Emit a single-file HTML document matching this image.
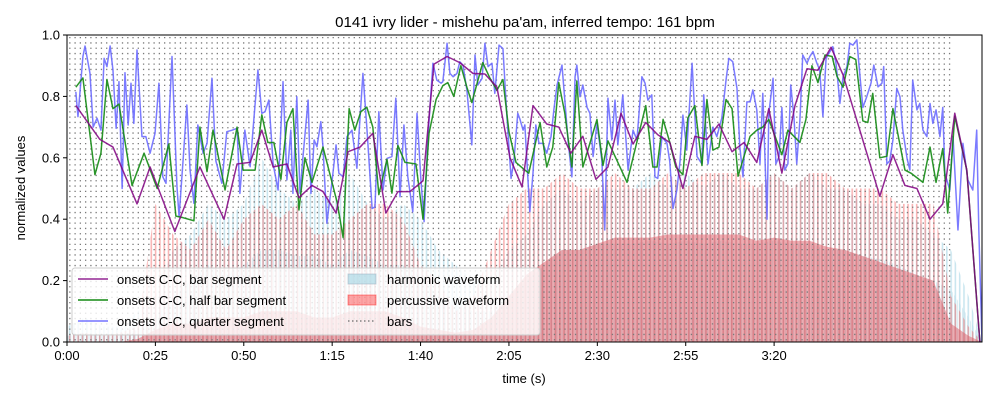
<!DOCTYPE html>
<html><head><meta charset="utf-8"><style>
html,body{margin:0;padding:0;background:#fff;}
svg{display:block;font-family:"Liberation Sans","DejaVu Sans",sans-serif;}
</style></head><body>
<svg id="chart" width="1000" height="400" viewBox="0 0 1000 400" xmlns="http://www.w3.org/2000/svg">
<defs>
<pattern id="stripes" width="2.6" height="10" patternUnits="userSpaceOnUse"><rect x="0" y="0" width="1.1" height="10" fill="#fff"/></pattern>
<mask id="stripeMask"><rect x="0" y="0" width="1000" height="400" fill="url(#stripes)"/></mask>
<pattern id="stripes2" width="4.3" height="10" patternUnits="userSpaceOnUse"><rect x="0" y="0" width="1.6" height="10" fill="#fff"/></pattern>
<mask id="stripeMask2"><rect x="0" y="0" width="1000" height="400" fill="url(#stripes2)"/></mask>
<clipPath id="plotClip"><rect x="67" y="35" width="915" height="307"/></clipPath>
</defs>
<text x="525" y="27" text-anchor="middle" font-size="15">0141 ivry lider - mishehu pa'am, inferred tempo: 161 bpm</text>
<g id="plot" clip-path="url(#plotClip)"></g>
<rect x="67" y="35" width="915" height="307" fill="none" stroke="#000" stroke-width="1"/>
<g id="axes"></g>
<text x="524" y="383" text-anchor="middle" font-size="13">time (s)</text>
<text transform="translate(25,188) rotate(-90)" text-anchor="middle" font-size="13">normalized values</text>
<g id="legend">
<rect x="72" y="268" width="468" height="67" rx="3" fill="#fff" fill-opacity="0.8" stroke="#ccc"/>
<line x1="78" y1="279" x2="108" y2="279" stroke="#800080" stroke-opacity="0.85" stroke-width="1.5"/>
<text x="117" y="284" font-size="13">onsets C-C, bar segment</text>
<line x1="78" y1="300" x2="108" y2="300" stroke="#138a13" stroke-width="1.5"/>
<text x="117" y="305" font-size="13">onsets C-C, half bar segment</text>
<line x1="78" y1="321" x2="108" y2="321" stroke="#6464ff" stroke-opacity="0.9" stroke-width="1.5"/>
<text x="117" y="326" font-size="13">onsets C-C, quarter segment</text>
<rect x="348" y="274" width="28" height="10" fill="#add8e6" fill-opacity="0.7" stroke="#9ab" stroke-opacity="0.5"/>
<text x="387" y="284" font-size="13">harmonic waveform</text>
<rect x="348" y="295" width="28" height="10" fill="#ff0000" fill-opacity="0.35" stroke="#f00" stroke-opacity="0.4"/>
<text x="387" y="305" font-size="13">percussive waveform</text>
<line x1="348" y1="321" x2="376" y2="321" stroke="#808080" stroke-width="1.5" stroke-dasharray="1.5 2.5"/>
<text x="387" y="326" font-size="13">bars</text>
</g>
</svg>
<script>
const xTicks = [0,25,50,75,100,125,150,175,200];
const xTickLabels = ["0:00","0:25","0:50","1:15","1:40","2:05","2:30","2:55","3:20"];
const yTicks = [0,0.2,0.4,0.6,0.8,1.0];
const yTickLabels = ["0.0","0.2","0.4","0.6","0.8","1.0"];
const duration = 258.8;
const barDuration = 1.49;
const barsEnd = 250;
const waveTimes = [0,5,10,15,20,25,30,35,40,45,50,55,60,65,70,75,80,85,90,95,100,105,110,115,120,125,130,135,140,145,150,155,160,165,170,175,180,185,190,195,200,205,210,215,220,225,230,235,240,245,250,255,258.8];
const harmonicPeak = [.05,.08,.05,.05,.1,.15,.3,.35,.45,.4,.45,.6,.5,.45,.5,.45,.55,.45,.4,.45,.4,.3,.25,.2,.2,.3,.35,.45,.5,.45,.5,.5,.5,.55,.5,.55,.5,.55,.5,.5,.55,.5,.55,.5,.5,.45,.45,.4,.4,.35,.3,.15,0];
const harmonicBody = [.02,.03,.02,.02,.04,.08,.15,.2,.25,.22,.25,.3,.3,.28,.28,.25,.3,.28,.25,.25,.22,.15,.12,.1,.1,.15,.2,.25,.3,.3,.32,.32,.32,.33,.32,.33,.32,.33,.32,.32,.33,.32,.32,.3,.3,.28,.27,.25,.22,.2,.17,.08,0];
const percPeak = [.02,.03,.02,.03,.05,.45,.35,.3,.4,.3,.4,.45,.4,.45,.35,.35,.4,.45,.45,.4,.25,.2,.1,.15,.3,.45,.5,.5,.55,.5,.5,.55,.5,.5,.55,.5,.55,.55,.55,.5,.55,.5,.55,.55,.5,.5,.5,.45,.45,.45,.15,.05,0];
const percBody = [0,0,0,0,.01,.04,.06,.06,.08,.08,.08,.1,.1,.1,.08,.08,.1,.1,.1,.08,.05,.04,.03,.04,.08,.15,.22,.26,.3,.3,.32,.34,.34,.34,.35,.35,.35,.35,.35,.33,.34,.33,.33,.31,.3,.28,.26,.24,.22,.2,.06,.02,0];
const barTimes = [2.5,9.3,13.0,19.8,23.5,30.5,37.6,44.4,48.1,51.8,55.1,58.3,62.2,65.6,69.3,72.4,76.1,79.5,82.9,86.5,90.2,93.6,97.0,100.7,103.8,107.5,111.1,114.8,118.2,121.6,125.3,128.7,131.8,135.7,139.1,142.5,145.9,149.6,153.0,156.7,160.1,163.7,167.1,170.5,174.2,177.6,181.0,184.4,188.1,191.5,195.1,198.5,202.2,205.9,209.3,212.4,216.1,219.5,229.9,233.6,237.0,240.4,244.1,247.7,251.1,254.5,258.2];
const barValues = [.77,.66,.635,.45,.57,.36,.57,.40,.58,.585,.69,.57,.58,.47,.51,.49,.42,.62,.635,.68,.42,.49,.49,.525,.905,.93,.91,.875,.873,.83,.6,.505,.77,.71,.70,.615,.67,.53,.57,.745,.645,.715,.675,.65,.50,.67,.66,.71,.62,.65,.585,.76,.55,.77,.89,.885,.96,.87,.475,.61,.51,.50,.40,.45,.745,.56,0];
const halfTimes = [2.5,4.5,7.9,9.6,11.3,13.0,14.7,18.4,21.8,25.5,28.8,30.8,32.8,35.9,37.6,39.6,41.3,44.7,48.1,49.8,53.2,55.1,56.8,58.5,60.5,62.2,63.9,65.6,67.3,69.3,72.4,76.4,78.1,79.8,81.4,83.1,84.8,86.5,88.2,90.5,91.9,93.6,95.6,98.7,100.7,102.4,104.4,106.3,107.7,109.4,111.4,113.1,114.5,117.6,119.6,121.6,123.3,125.0,127.0,129.0,130.6,133.8,135.7,137.4,139.1,140.8,142.8,144.2,145.9,149.9,151.6,153.0,158.4,163.7,165.7,166.9,168.6,170.5,172.2,174.2,175.6,177.6,179.6,181.0,182.7,184.4,186.4,188.1,189.8,193.2,195.1,196.8,198.5,202.2,203.9,207.3,209.0,210.7,212.4,214.4,216.4,217.8,219.5,221.4,223.1,225.1,226.5,227.9,229.9,231.9,233.6,237.0,238.7,242.1,244.1,245.8,247.7,249.1,251.1,254.5,258.2];
const halfValues = [.83,.86,.545,.615,.855,.76,.775,.51,.615,.50,.645,.41,.405,.395,.70,.555,.69,.495,.70,.56,.56,.74,.65,.65,.53,.715,.76,.43,.60,.52,.635,.455,.34,.76,.69,.75,.765,.70,.48,.595,.485,.64,.585,.58,.40,.68,.79,.835,.845,.80,.90,.83,.78,.91,.86,.82,.855,.685,.585,.565,.55,.715,.57,.635,.845,.745,.57,.85,.57,.725,.575,.655,.52,.77,.57,.57,.725,.65,.57,.545,.73,.77,.575,.79,.625,.635,.79,.76,.54,.67,.69,.70,.725,.61,.69,.65,.725,.90,.845,.935,.93,.865,.83,.93,.92,.72,.715,.81,.60,.605,.76,.56,.55,.52,.635,.52,.63,.42,.735,.56,0];
const quarterTimes = [2.5,3.1,4.5,5.1,6.5,7.4,8.5,9.6,10.5,11.3,12.2,13.0,13.9,14.7,15.6,16.4,17.3,18.1,18.9,19.8,21.2,22.3,23.5,24.9,26.0,27.1,28.0,29.7,31.1,31.7,32.8,33.9,34.8,35.9,37.0,38.5,39.6,41.0,42.1,43.8,45.2,46.7,48.1,48.9,50.3,51.8,52.6,54.0,55.1,56.0,57.1,58.3,59.7,61.1,62.2,63.3,63.9,65.0,65.9,66.7,68.2,69.0,69.9,70.7,71.8,72.4,73.5,74.9,76.1,76.9,78.1,79.2,80.6,82.0,82.6,83.7,84.8,86.3,87.1,88.2,89.4,90.5,91.9,93.0,94.2,95.3,96.4,97.8,99.0,100.1,101.0,102.1,103.5,104.6,105.8,106.3,107.5,108.3,109.2,110.3,111.1,112.0,113.1,114.5,115.4,116.2,117.4,118.2,119.1,120.2,121.0,122.2,123.3,124.4,125.6,126.4,127.5,128.1,129.0,129.5,130.9,131.8,132.6,133.5,134.6,135.7,136.9,137.7,138.6,140.0,140.8,141.7,142.8,143.7,144.2,145.1,145.9,147.1,147.9,148.8,149.9,151.3,152.1,153.0,154.1,155.0,155.8,157.2,158.7,160.1,161.2,162.6,163.5,164.3,165.4,166.3,167.1,168.3,169.7,170.5,171.4,172.5,173.4,174.2,175.3,176.8,178.2,179.6,180.1,181.3,182.7,183.8,185.2,186.4,187.2,188.3,189.5,190.3,191.2,192.3,193.2,194.0,195.1,196.0,196.8,198.0,198.5,199.7,200.5,201.4,202.2,203.0,203.9,204.7,205.6,206.4,207.3,208.1,209.3,210.1,211.0,212.1,212.9,213.8,214.7,215.5,216.6,217.5,218.0,218.6,219.5,220.6,221.4,222.3,223.4,224.3,225.1,226.2,227.4,228.2,229.4,230.5,231.0,231.9,232.7,233.6,234.7,235.6,236.4,237.6,238.4,239.2,240.4,241.2,242.1,243.2,244.1,244.9,245.8,246.9,247.7,248.3,249.7,250.6,252.0,253.4,254.8,256.2,257.3,257.9,258.8];
const quarterValues = [.815,.734,.93,.964,.875,.70,.729,.69,.924,.897,.964,.886,.696,.848,.50,.877,.707,.843,.712,.951,.669,.669,.615,.68,.843,.538,.517,.93,.506,.408,.587,.772,.56,.452,.707,.615,.647,.859,.59,.517,.685,.69,.696,.484,.69,.571,.69,.886,.745,.75,.788,.58,.495,.848,.528,.69,.484,.799,.484,.598,.788,.484,.658,.636,.718,.636,.387,.517,.642,.55,.538,.669,.69,.566,.68,.875,.70,.435,.44,.75,.495,.598,.604,.794,.473,.707,.538,.424,.745,.528,.392,.669,.908,.853,.843,.848,.973,.875,.864,.875,.913,.902,.821,.642,.935,.837,.859,.973,.897,.908,.81,.967,.956,.739,.533,.59,.745,.726,.69,.707,.424,.55,.707,.647,.647,.615,.669,.756,.837,.902,.788,.658,.538,.864,.902,.799,.837,.764,.745,.604,.712,.59,.365,.794,.658,.788,.642,.805,.56,.69,.658,.864,.843,.788,.805,.538,.533,.669,.647,.587,.435,.495,.59,.739,.625,.908,.604,.58,.805,.58,.70,.669,.729,.853,.924,.913,.826,.636,.538,.782,.782,.821,.756,.58,.81,.40,.745,.859,.58,.604,.764,.56,.58,.837,.734,.58,.723,.935,.908,.93,.946,.908,.886,.734,.924,.94,.962,.908,.853,.777,.864,.897,.973,.967,.984,.864,.764,.799,.843,.902,.831,.843,.897,.58,.59,.658,.826,.799,.69,.598,.56,.853,.756,.777,.69,.669,.777,.712,.756,.669,.764,.55,.495,.669,.365,.647,.528,.495,.69,.365,0];

const NS = "http://www.w3.org/2000/svg";
const X0 = 67, X1 = 982, Y0 = 342, Y1 = 35;
function xs(t){ return X0 + t * (X1 - X0) / duration; }
function ys(v){ return Y0 - v * (Y0 - Y1); }
function mk(tag, attrs, parent){ const e = document.createElementNS(NS, tag); for (const k in attrs) e.setAttribute(k, attrs[k]); parent.appendChild(e); return e; }
const plot = document.getElementById('plot');
const axes = document.getElementById('axes');

function areaPath(times, vals){
  let d = 'M' + xs(times[0]).toFixed(2) + ',' + ys(0);
  for (let i = 0; i < times.length; i++) d += ' L' + xs(times[i]).toFixed(2) + ',' + ys(vals[i]).toFixed(2);
  d += ' L' + xs(times[times.length-1]).toFixed(2) + ',' + ys(0) + ' Z';
  return d;
}
function linePath(times, vals){
  let d = '';
  for (let i = 0; i < times.length; i++) d += (i ? ' L' : 'M') + xs(times[i]).toFixed(2) + ',' + ys(vals[i]).toFixed(2);
  return d;
}

let e;
e = mk('path', {d: areaPath(waveTimes, harmonicPeak), fill: '#add8e6', 'fill-opacity': '0.65', mask: 'url(#stripeMask2)'}, plot);


e = mk('path', {d: areaPath(waveTimes, harmonicBody), fill: '#add8e6', 'fill-opacity': '0.5', mask: 'url(#stripeMask)'}, plot);


e = mk('path', {d: areaPath(waveTimes, percPeak), fill: '#f25a5a', 'fill-opacity': '0.45', mask: 'url(#stripeMask2)'}, plot);


e = mk('path', {d: areaPath(waveTimes, percBody), fill: '#dc5c66', 'fill-opacity': '0.5'}, plot);



const barsG = mk('g', {}, plot);


for (let t = 0.8; t <= barsEnd; t += barDuration) {
  const x = xs(t).toFixed(2);
  mk('line', {x1: x, x2: x, y1: Y1 + 2, y2: Y0, stroke: '#7a7a7a', 'stroke-width': '1.3', 'stroke-dasharray': '1.3 4'}, barsG);
}

e = mk('path', {d: linePath(quarterTimes, quarterValues), fill: 'none', stroke: '#6464ff', 'stroke-opacity': '0.85', 'stroke-width': '1.5', 'stroke-linejoin': 'round'}, plot);


e = mk('path', {d: linePath(halfTimes, halfValues), fill: 'none', stroke: '#138a13', 'stroke-opacity': '0.9', 'stroke-width': '1.5', 'stroke-linejoin': 'round'}, plot);


e = mk('path', {d: linePath(barTimes, barValues), fill: 'none', stroke: '#800080', 'stroke-opacity': '0.85', 'stroke-width': '1.5', 'stroke-linejoin': 'round'}, plot);



for (let i = 0; i < xTicks.length; i++) {
  const x = xs(xTicks[i]);
  const tk = mk('line', {x1: x, x2: x, y1: Y0, y2: Y0 + 4, stroke: '#000'}, axes);
  
  
  const lb = mk('text', {x: x, y: Y0 + 18, 'text-anchor': 'middle', 'font-size': '13'}, axes);
  lb.textContent = xTickLabels[i];
  
  
}
for (let i = 0; i < yTicks.length; i++) {
  const y = ys(yTicks[i]);
  const tk = mk('line', {x1: X0 - 4, x2: X0, y1: y, y2: y, stroke: '#000'}, axes);
  
  
  const lb = mk('text', {x: X0 - 7, y: y + 4.5, 'text-anchor': 'end', 'font-size': '13'}, axes);
  lb.textContent = yTickLabels[i];
  
  
}
</script>
</body></html>
